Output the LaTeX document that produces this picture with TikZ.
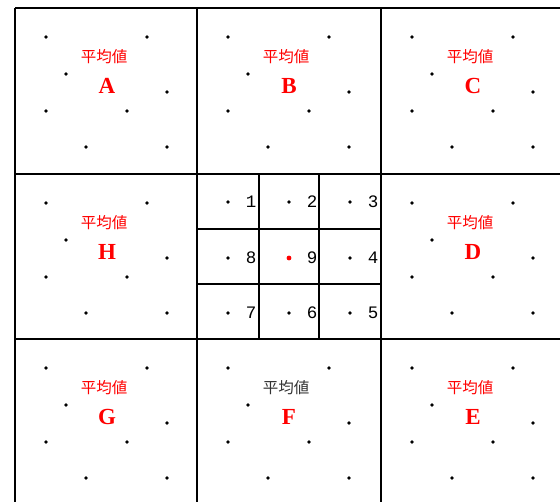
\documentclass[tikz,border=0pt]{standalone}
\usepackage{fontspec}
\setmainfont{Liberation Serif}
\setmonofont{Liberation Mono}
\newfontfamily\cjk{Noto Sans CJK JP}

\tikzset{
  gridline/.style={line width=1.6pt},
  avglabel/.style={text=red, font=\cjk\fontsize{15.5}{17}\selectfont, inner sep=0pt},
  blocklabel/.style={text=red, font=\bfseries\fontsize{23}{25}\selectfont, inner sep=0pt},
  numlabel/.style={font=\ttfamily\fontsize{17.5}{19}\selectfont, inner sep=0pt},
}

\begin{document}
\begin{tikzpicture}[x=1pt, y=-1pt]
  \useasboundingbox (0,0) rectangle (560,502);
  % big blocks
  \draw[gridline] (15,8) -- (560,8);
  \draw[gridline] (15,174) -- (560,174);
  \draw[gridline] (15,339) -- (560,339);
  \draw[gridline] (15,8) -- (15,502);
  \draw[gridline] (197,8) -- (197,502);
  \draw[gridline] (381,8) -- (381,502);
  % small cells in the middle
  \draw[gridline] (259,174) -- (259,339);
  \draw[gridline] (319,174) -- (319,339);
  \draw[gridline] (197,229) -- (381,229);
  \draw[gridline] (197,284) -- (381,284);
  % outer blocks: points, mean, name
  \foreach \cx/\cy/\lab/\tcol in {15/8/A/red, 197/8/B/red, 381/8/C/red,
      381/174/D/red, 381/339/E/red, 197/339/F/black!80, 15/339/G/red, 15/174/H/red} {
    \foreach \dx/\dy in {31/29, 132/29, 51/66, 152/84, 31/103, 112/103, 71/139, 152/139}
      \fill (\cx+\dx,\cy+\dy) circle (1.8pt);
    \node[avglabel, text=\tcol] (avg\lab) at (\cx+89,\cy+49) {平均値};
    \node[blocklabel] (blk\lab) at (\cx+92,\cy+78) {\lab};
  }
  % numbered cells
  \foreach \px/\py/\k in {228/202/1, 289/202/2, 350/202/3, 228/258/8,
      350/258/4, 228/313/7, 289/313/6, 350/313/5} {
    \fill (\px,\py) circle (1.8pt);
    \node[numlabel] (num\k) at (\px+23,\py) {\k};
  }
  \fill[red] (289,258) circle (2.4pt);
  \node[numlabel] (num9) at (312,258) {9};
\end{tikzpicture}
\end{document}
